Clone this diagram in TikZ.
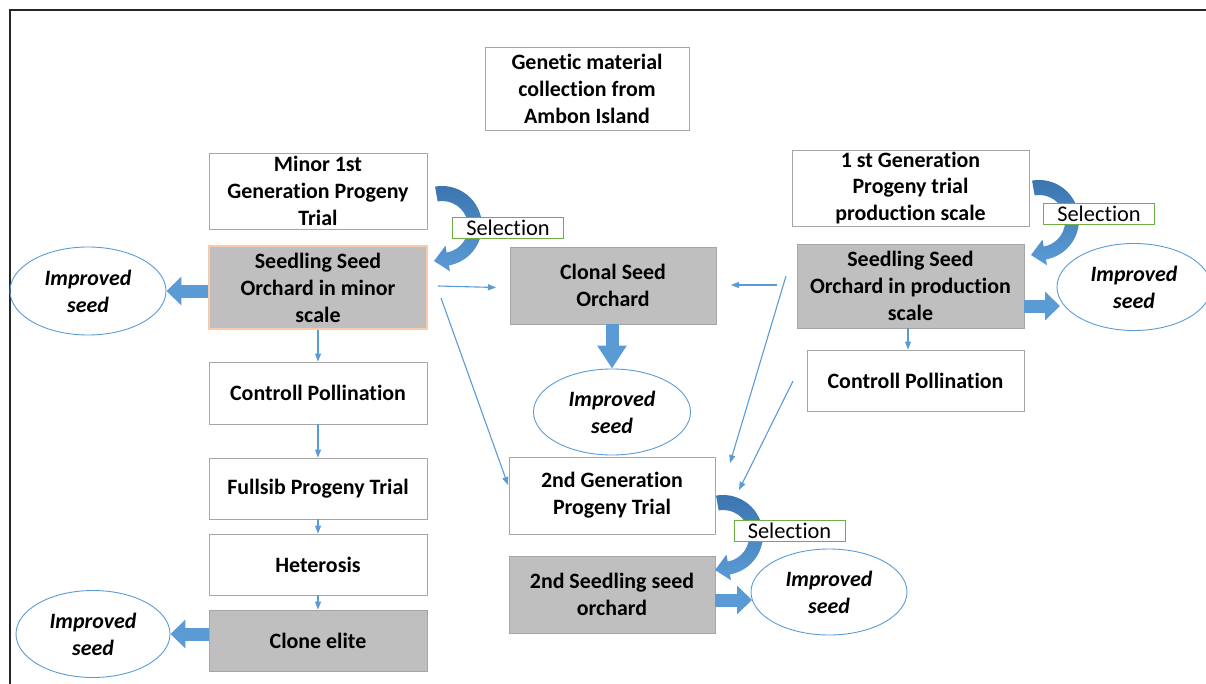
\documentclass[tikz,border=0pt]{standalone}
\usepackage{fontspec}
\setmainfont{Carlito}[RawFeature={-liga;-clig;-calt}]
\usetikzlibrary{arrows.meta,positioning,shapes.geometric}
\definecolor{boxgray}{HTML}{A6A6A6}
\definecolor{orchardgray}{HTML}{BFBFBF}
\definecolor{peach}{HTML}{F8CBAD}
\definecolor{linkblue}{HTML}{5B9BD5}
\definecolor{arrowdark}{HTML}{3A74AE}
\definecolor{selgreen}{HTML}{70AD47}
% curved selection arrow, centred on #1,#2
\newcommand{\selcurve}[2]{%
  \shade[top color=arrowdark, bottom color=linkblue, shift={(#1,#2)}]
    (-100:40) arc[start angle=-100, end angle=80, radius=40]
    -- (80:46) -- (-8,35) -- (80:20) -- (80:27)
    arc[start angle=80, end angle=-100, radius=26] -- cycle;}
\tikzset{
  box/.style={draw=boxgray, line width=0.8bp, fill=white, align=center,
    inner sep=0pt, font=\fontsize{22}{27}\selectfont\bfseries},
  greybox/.style={box, fill=orchardgray},
  improved/.style={ellipse, draw=linkblue, line width=0.9bp, align=center,
    inner sep=0pt, font=\fontsize{22}{27}\selectfont\bfseries\itshape},
  selbox/.style={draw=selgreen, fill=white, line width=0.9bp, inner sep=0pt,
    minimum width=111bp, minimum height=21bp, font=\fontsize{22.5}{27}\selectfont},
  link/.style={linkblue, line width=1.1bp, -{Triangle[length=8bp,width=6bp]}},
  bigarrow/.style={linkblue, line width=13bp, -{Triangle[length=15bp,width=28bp]}}
}

\begin{document}
\begin{tikzpicture}[x=1bp, y=-1bp]
  \useasboundingbox (0,0) rectangle (1206,684);
  \draw[line width=1.5bp, black!85] (10,684) -- (10,10) -- (1206,10);

  % boxes
  \node[box, minimum width=204bp, minimum height=83bp] (collect) at (587,89)
    {Genetic material\\collection from\\Ambon Island};
  \node[box, minimum width=218bp, minimum height=76bp] (gen1minor) at (318,191)
    {Minor 1st\\Generation Progeny\\Trial};
  \node[greybox, draw=peach, line width=1.2bp, minimum width=218bp, minimum height=83bp] (sso1) at (318,287.5)
    {Seedling Seed\\Orchard in minor\\scale};
  \node[box, minimum width=218bp, minimum height=62bp] (cp1) at (318,393) {Controll Pollination};
  \node[box, minimum width=218bp, minimum height=61bp] (fullsib) at (318,488.5) {Fullsib Progeny Trial};
  \node[box, minimum width=218bp, minimum height=61bp] (hetero) at (318,564.5) {Heterosis};
  \node[greybox, minimum width=218bp, minimum height=61bp] (elite) at (318,640.5) {Clone elite};
  \node[greybox, minimum width=206bp, minimum height=77bp] (cso) at (613,285.5) {Clonal Seed\\Orchard};
  \node[box, minimum width=206bp, minimum height=77bp] (gen2) at (612,495.5) {2nd Generation\\Progeny Trial};
  \node[greybox, minimum width=206bp, minimum height=77bp] (sso3) at (612,594.5) {2nd Seedling seed\\orchard};
  \node[box, minimum width=237bp, minimum height=76bp] (gen1prod) at (910.5,188)
    {1 st Generation\\Progeny trial\\production scale};
  \node[greybox, minimum width=227bp, minimum height=84bp] (sso2) at (910.5,286)
    {Seedling Seed\\Orchard in production\\scale};
  \node[box, minimum width=217bp, minimum height=61bp] (cp2) at (915.5,380.5) {Controll Pollination};

  % improved seed
  \node[improved, minimum width=156bp, minimum height=88bp] (imp1) at (88,291) {Improved\\seed};
  \node[improved, minimum width=157bp, minimum height=86bp] (imp2) at (612,412) {Improved\\seed};
  \node[improved, minimum width=154bp, minimum height=87bp] (imp3) at (1134,287) {Improved\\seed};
  \node[improved, minimum width=156bp, minimum height=86bp] (imp4) at (829,592) {Improved\\seed};
  \node[improved, minimum width=154bp, minimum height=87bp] (imp5) at (93,634) {Improved\\seed};

  % thin links
  \draw[link] (sso1) -- (cp1);
  \draw[link] (cp1) -- (fullsib);
  \draw[link] (fullsib) -- (hetero);
  \draw[link] (hetero) -- (elite);
  \coordinate (rx) at (908,0);
  \draw[link] (sso2.south -| rx) -- (cp2.north -| rx);
  \coordinate (m1) at (438,286);
  \coordinate (m1e) at (496,287.5);
  \coordinate (m2) at (441,298);
  \coordinate (m2e) at (508,485);
  \coordinate (p1) at (777,285);
  \coordinate (p1e) at (731,285);
  \coordinate (p2) at (786,276);
  \coordinate (p2e) at (730,463);
  \coordinate (p3) at (793,381);
  \coordinate (p3e) at (739,490);
  \draw[link] (m1) -- (m1e);
  \draw[link] (m2) -- (m2e);
  \draw[link] (p1) -- (p1e);
  \draw[link] (p2) -- (p2e);
  \draw[link] (p3) -- (p3e);

  % block arrows
  \draw[bigarrow] (sso1.west |- imp1.east) -- (imp1.east);
  \draw[bigarrow] (elite.west |- imp5.east) -- (imp5.east);
  \draw[bigarrow, -{Triangle[length=23bp,width=28bp]}] (cso.south -| imp2.north) -- (imp2.north);
  \coordinate (tip3) at (1060,306);
  \draw[bigarrow] (sso2.east |- tip3) -- (tip3);
  \coordinate (tip4) at (752,600);
  \draw[bigarrow] (sso3.east |- tip4) -- (tip4);

  % selection
  \selcurve{442}{226}
  \selcurve{1039}{220}
  \selcurve{723}{535}
  \node[selbox] (sel1) at (508,227.5) {Selection};
  \node[selbox] (sel2) at (1099,213.5) {Selection};
  \node[selbox] (sel3) at (789.5,530.5) {Selection};
\end{tikzpicture}
\end{document}
